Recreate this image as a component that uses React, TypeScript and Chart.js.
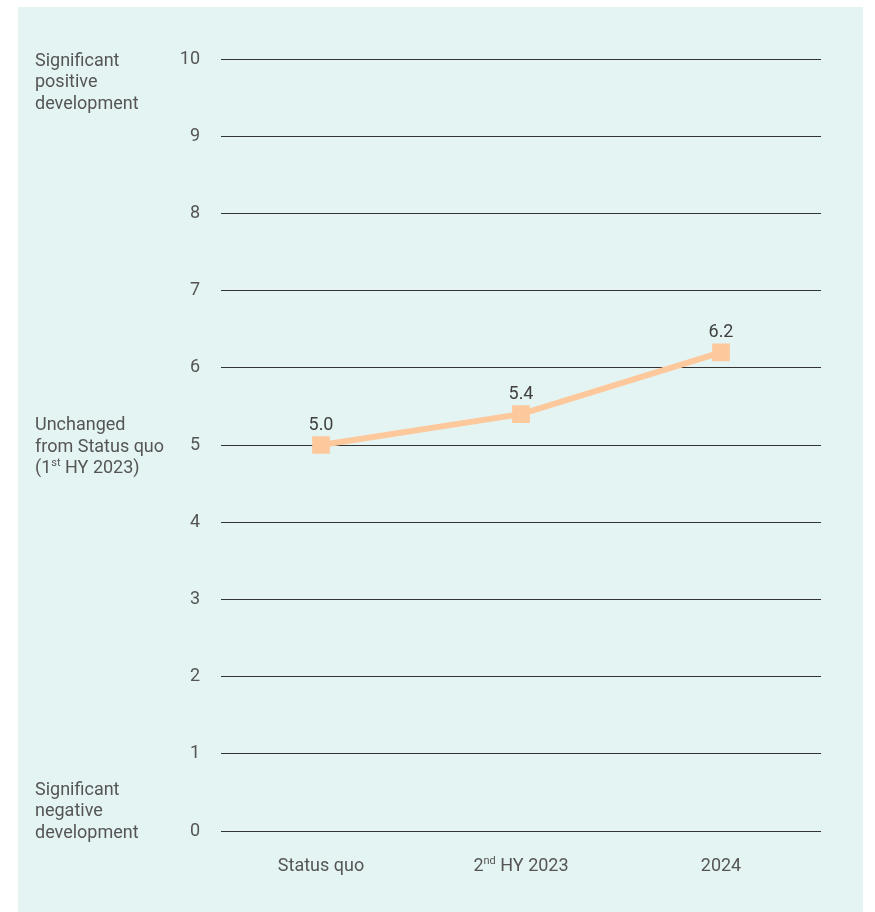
import React, { useEffect, useRef } from "react";
import { Chart, registerables } from "chart.js";

Chart.register(...registerables);

const categories = ["Status quo", "2nd HY 2023", "2024"];
const values = [5.0, 5.4, 6.2];
const yTicks = [0, 1, 2, 3, 4, 5, 6, 7, 8, 9, 10];
const sideLabelsTop = ["Significant", "positive", "development"];
const sideLabelsMid = ["Unchanged", "from Status quo", "(1st HY 2023)"];
const sideLabelsBottom = ["Significant", "negative", "development"];

const FONT = "Roboto, 'Liberation Sans', sans-serif";
const FS = 18;
const TEXT = "#555555";
const LINE = "#fdc89b";
const BG = "#e4f4f3";

function drawSup(ctx: CanvasRenderingContext2D, text: string, x: number, y: number, align: "left" | "center") {
  const m = text.match(/^(.*?\d)(st|nd|rd|th)(\b.*)$/);
  const parts: { t: string; sup: boolean }[] = m
    ? [{ t: m[1], sup: false }, { t: m[2], sup: true }, { t: m[3], sup: false }]
    : [{ t: text, sup: false }];
  const normal = `${FS}px ${FONT}`;
  const small = `${Math.round(FS * 0.6)}px ${FONT}`;
  let total = 0;
  const widths = parts.map((p) => {
    ctx.font = p.sup ? small : normal;
    const w = ctx.measureText(p.t).width;
    total += w;
    return w;
  });
  let cx = align === "center" ? x - total / 2 : x;
  ctx.textAlign = "left";
  ctx.textBaseline = "middle";
  parts.forEach((p, i) => {
    ctx.font = p.sup ? small : normal;
    ctx.fillText(p.t, cx, p.sup ? y - 5 : y);
    cx += widths[i];
  });
}

const customText = {
  id: "customText",
  afterDraw(chart: any) {
    const ctx = chart.ctx as CanvasRenderingContext2D;
    const y = chart.scales.y;
    const x = chart.scales.x;
    ctx.save();
    ctx.fillStyle = TEXT;
    const lh = 21.5;
    const lx = 17;
    const dy = 2;
    const y10 = y.getPixelForValue(10) + dy;
    sideLabelsTop.forEach((t, i) => drawSup(ctx, t, lx, y10 + i * lh, "left"));
    const y5 = y.getPixelForValue(5) + dy;
    sideLabelsMid.forEach((t, i) => drawSup(ctx, t, lx, y5 + (i - 1) * lh, "left"));
    const y0 = y.getPixelForValue(0) + dy;
    sideLabelsBottom.forEach((t, i) => drawSup(ctx, t, lx, y0 + (i - 2) * lh, "left"));
    categories.forEach((c, i) => {
      drawSup(ctx, c, x.getPixelForValue(i), chart.chartArea.bottom + 35, "center");
    });
    ctx.fillStyle = "#3f3f3f";
    ctx.font = `${FS}px ${FONT}`;
    ctx.textAlign = "center";
    ctx.textBaseline = "middle";
    const meta = chart.getDatasetMeta(0);
    meta.data.forEach((pt: any, i: number) => {
      ctx.fillText(values[i].toFixed(1), pt.x, pt.y - 20);
    });
    ctx.restore();
  },
};

export default function App() {
  const ref = useRef<HTMLCanvasElement | null>(null);
  useEffect(() => {
    if (!ref.current) return;
    const chart = new Chart(ref.current, {
      type: "line",
      data: {
        labels: categories,
        datasets: [
          {
            data: values,
            borderColor: LINE,
            backgroundColor: LINE,
            borderWidth: 6,
            pointStyle: "rect",
            pointRadius: 12.5,
            pointHoverRadius: 12.5,
            pointBorderWidth: 0,
            pointBackgroundColor: LINE,
            tension: 0,
          },
        ],
      },
      options: {
        animation: false,
        responsive: false,
        maintainAspectRatio: false,
        layout: { padding: { left: 0, right: 42, top: 52, bottom: 0 } },
        plugins: { legend: { display: false }, tooltip: { enabled: false } },
        scales: {
          x: {
            type: "category",
            offset: true,
            grid: { display: false, drawTicks: false },
            border: { display: false },
            ticks: { display: false },
            afterFit: (s: any) => {
              s.height = 81;
            },
          },
          y: {
            min: 0,
            max: 10,
            afterBuildTicks: (s: any) => {
              s.ticks = yTicks.map((v) => ({ value: v }));
            },
            grid: { color: "#333333", lineWidth: 1, drawTicks: false },
            border: { display: false },
            ticks: {
              padding: 21,
              color: TEXT,
              font: { family: FONT, size: FS },
            },
            afterFit: (s: any) => {
              s.width = 203;
            },
          },
        },
      },
      plugins: [customText],
    });
    return () => chart.destroy();
  }, []);
  return (
    <div
      style={{
        position: "absolute",
        left: 18,
        top: 7,
        width: 845,
        height: 905,
        background: BG,
      }}
    >
      <canvas ref={ref} width={845} height={905} style={{ display: "block" }} />
    </div>
  );
}
